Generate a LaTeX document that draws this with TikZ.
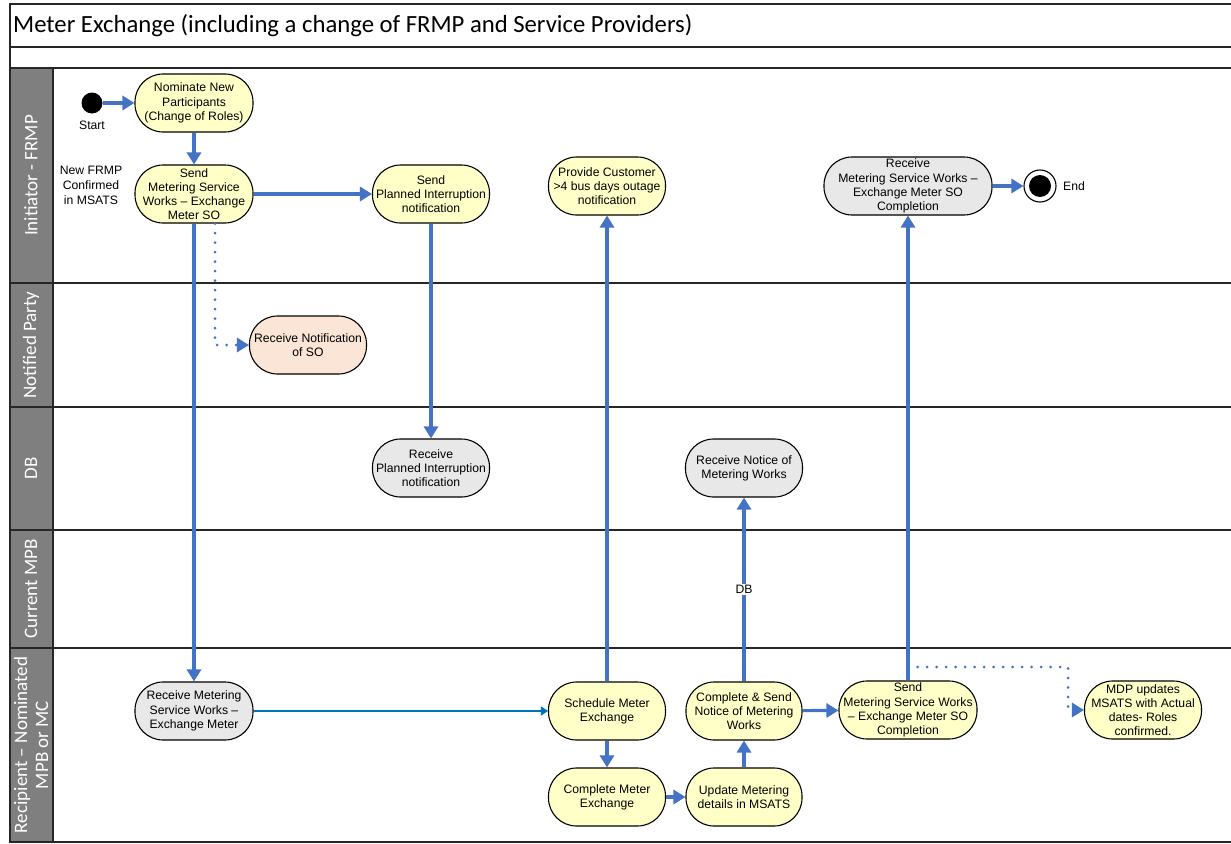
\documentclass[tikz,border=0pt]{standalone}
\usepackage{fontspec}
\setmainfont{Liberation Sans}
\newfontfamily\calib{Carlito}
\usetikzlibrary{arrows.meta}
\definecolor{arrblue}{RGB}{68,114,196}
\definecolor{lnblue}{RGB}{0,112,192}
\definecolor{actyel}{RGB}{255,255,200}
\definecolor{actgray}{RGB}{232,232,232}
\definecolor{actpeach}{RGB}{251,229,214}
\definecolor{lanegray}{RGB}{127,127,127}
\begin{document}
\begin{tikzpicture}[x=1pt,y=-1pt,
  act/.style={draw=black, line width=1.1pt, rounded corners=28pt, minimum height=58pt, inner sep=0pt, align=center, font=\fontsize{12.2}{14.2}\selectfont},
  yel/.style={act, fill=actyel},
  gry/.style={act, fill=actgray},
  pch/.style={act, fill=actpeach},
  plain/.style={align=center, inner sep=1pt, font=\fontsize{12.2}{15}\selectfont},
  flow/.style={draw=arrblue, line width=3.2pt, -{Triangle[length=12pt,width=14pt]}},
  thinflow/.style={draw=lnblue, line width=2.2pt, -{Triangle[length=7pt,width=9pt]}},
  dotflow/.style={draw=arrblue, line width=3pt, line cap=round, dash pattern=on 0pt off 9.5pt, -{Triangle[length=12pt,width=14pt]}},
  lanelbl/.style={rotate=90, text=white, align=center, font=\calib\fontsize{19}{21}\selectfont},
  rule/.style={draw=black!85, line width=1.3pt}
]
\useasboundingbox (0,0) rectangle (1231,843);
\fill[white] (0,0) rectangle (1231,843);
% frame
\fill[lanegray] (10,68) rectangle (53,842);
\draw[rule] (1232,4) -- (10,4) -- (10,842) -- (1232,842);
\draw[rule] (10,47) -- (1232,47);
\draw[rule] (10,68) -- (1232,68);
\draw[rule] (10,283) -- (1232,283);
\draw[rule] (10,407) -- (1232,407);
\draw[rule] (10,530) -- (1232,530);
\draw[rule] (10,648) -- (1232,648);
\draw[rule] (53,68) -- (53,842);
\node[anchor=west, inner sep=0pt, font=\calib\fontsize{24.7}{28}\selectfont] (title) at (13,26) {Meter Exchange (including a change of FRMP and Service Providers)};
% lane labels
\node[lanelbl] (lane1) at (31,175.5) {Initiator - FRMP};
\node[lanelbl] (lane2) at (31,345) {Notified Party};
\node[lanelbl] (lane3) at (31,468.5) {DB};
\node[lanelbl] (lane4) at (31,589) {Current MPB};
\node[lanelbl] (lane5) at (31,745) {Recipient – Nominated\\MPB or MC};
% nodes
\node[circle, fill=black, minimum size=21pt, inner sep=0pt] (start) at (92,103) {};
\node[plain] (startlbl) at (92,125) {Start};
\node[yel, minimum width=118pt] (nominate) at (194,103) {Nominate New\\Participants\\(Change of Roles)};
\node[yel, minimum width=118pt] (sendso) at (194,194) {Send\\Metering Service\\Works – Exchange\\Meter SO};
\node[plain] (newfrmp) at (91,185) {New FRMP\\Confirmed\\in MSATS};
\node[yel, minimum width=117pt] (sendpi) at (431,194) {Send\\Planned Interruption\\notification};
\node[yel, minimum width=117pt] (provide) at (607,186) {Provide Customer\\>4 bus days outage\\notification};
\node[gry, minimum width=168pt] (recvcomp) at (908,186) {Receive\\Metering Service Works –\\Exchange Meter SO\\Completion};
\node[circle, draw=black, line width=1.1pt, fill=white, minimum size=32pt, inner sep=0pt] (end) at (1040,186) {};
\node[circle, fill=black, minimum size=22pt, inner sep=0pt] (endin) at (end.center) {};
\node[plain] (endlbl) at (1074,186) {End};
\node[pch, minimum width=117pt] (recvnot) at (308,345) {Receive Notification\\of SO};
\node[gry, minimum width=117pt] (recvpi) at (431,468) {Receive\\Planned Interruption\\notification};
\node[gry, minimum width=117pt] (recvnotice) at (744,468) {Receive Notice of\\Metering Works};
\node[gry, minimum width=118pt] (recvmsw) at (194,711) {Receive Metering\\Service Works –\\Exchange Meter};
\node[yel, minimum width=117pt] (schedule) at (607,711) {Schedule Meter\\Exchange};
\node[yel, minimum width=117pt] (completeme) at (607,797) {Complete Meter\\Exchange};
\node[yel, minimum width=116pt] (compsend) at (744,711) {Complete \& Send\\Notice of Metering\\Works};
\node[yel, minimum width=116pt] (update) at (744,797) {Update Metering\\details in MSATS};
\node[yel, minimum width=138pt] (sendcomp) at (908,710) {Send\\Metering Service Works\\– Exchange Meter SO\\Completion};
\node[yel, minimum width=117pt] (mdp) at (1143,710) {MDP updates\\MSATS with Actual\\dates- Roles\\confirmed.};
% connectors
\draw[flow] (start) -- (nominate);
\draw[flow] (nominate) -- (sendso);
\draw[flow] (sendso) -- (sendpi);
\draw[flow] (sendso) -- (recvmsw);
\draw[flow] (sendpi) -- (recvpi);
\draw[thinflow] (recvmsw) -- (schedule);
\draw[flow] (schedule) -- (provide);
\draw[flow] (schedule) -- (completeme);
\draw[flow] (completeme) -- (update);
\draw[flow] (update) -- (compsend);
\draw[flow] (compsend) -- node[plain, fill=white] (dblbl) {DB} (recvnotice);
\draw[flow] (compsend) -- (sendcomp);
\draw[flow] (sendcomp) -- (recvcomp);
\draw[flow] (recvcomp) -- (end);
\draw[dotflow] ([xshift=21pt]sendso.south) |- (recvnot.west);
\coordinate (dc) at (1068,667);
\draw[dotflow] (sendcomp.north |- dc) -- (dc) |- (mdp.west);
\end{tikzpicture}
\end{document}
